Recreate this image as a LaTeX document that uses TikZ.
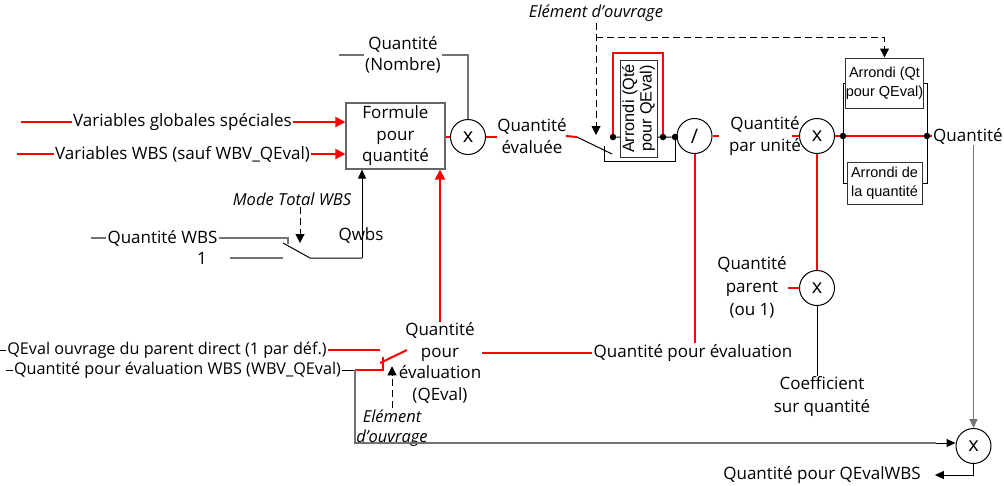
\documentclass[tikz,border=0pt]{standalone}
\usepackage{fontspec}
\setmainfont{Open Sans}
\newfontfamily\boxfont{Liberation Sans}
\usetikzlibrary{arrows.meta,positioning}

\begin{document}
\begin{tikzpicture}[
  x=1pt, y=-1pt,
  every node/.style={font=\fontsize{17}{21.5}\selectfont, inner sep=1pt, align=center},
  formbox/.style={draw=black!60, line width=1.1pt, minimum width=99pt, minimum height=66pt},
  rbox/.style={draw=black!80, line width=1pt, fill=white, inner sep=0pt, font=\boxfont\fontsize{14.5}{19}\selectfont},
  op/.style={draw, circle, line width=1pt, minimum size=35pt, inner sep=0pt, font=\fontsize{20}{20}\selectfont},
  note/.style={font=\fontsize{16.5}{20.5}\selectfont\itshape},
  long/.style={font=\fontsize{16.2}{20}\selectfont},
  wire/.style={line width=1pt},
  gwire/.style={line width=1.1pt, black!55},
  rwire/.style={line width=2pt, red},
  arr/.style={-{Triangle[length=9pt,width=8pt]}, line width=1pt},
  rarr/.style={-{Triangle[length=10pt,width=10pt]}, line width=2pt, red},
  darr/.style={-{Triangle[length=9pt,width=9pt]}, dash pattern=on 7pt off 4pt, line width=1pt},
  dot/.style={circle, fill, inner sep=0pt, minimum size=6.5pt}
]
\useasboundingbox (0,0) rectangle (1004,485);

\node[formbox] (formule) at (395.5,136) {Formule\\pour\\quantité};
\node (nombre) at (403,55) {Quantité\\(Nombre)};
\node[op] (mul1) at (468,137) {x};
\node (vgs) at (182.5,122) {Variables globales spéciales};
\node (vwbs) at (182.5,154) {Variables WBS (sauf WBV\_QEval)};
\node (qeva) at (532,136) {Quantité\\évaluée};
\node[op] (div) at (694.5,136) {/};
\node (qpu) at (765,136) {Quantité\\par unité};
\node[op] (mul2) at (817,136) {x};
\node[op] (mul3) at (817,288) {x};
\node[font=\fontsize{17}{23}\selectfont] (qpar) at (752,287) {Quantité\\parent\\(ou 1)};
\node[font=\fontsize{17}{23}\selectfont] (coef) at (822,397) {Coefficient\\sur quantité};
\node[anchor=west] (qout) at (932,136) {Quantité};
\node[op] (mul4) at (973.5,446) {x};
\node (qwbsout) at (822,475) {Quantité pour QEvalWBS};
\node[note] (elem1) at (596,13) {Elément d'ouvrage};
\node[note] (mode) at (292,199) {Mode Total WBS};
\node (qwbs) at (361,235) {Qwbs};
\node (qwbsin) at (162.5,238) {Quantité WBS};
\node (one) at (202,258) {1};
\node (qeval) at (440,363) {Quantité\\pour\\évaluation\\(QEval)};
\node (qpe) at (693,353) {Quantité pour évaluation};
\node[long] (parentd) at (167,350) {QEval ouvrage du parent direct (1 par déf.)};
\node[long] (wbvq) at (177.5,370) {Quantité pour évaluation WBS (WBV\_QEval)};
\node[note] (elem2) at (392,428) {Elément\\d'ouvrage};

\node[dot] (d1) at (613,137) {};
\node[dot] (d2) at (663,137) {};
\node[dot] (d3) at (675,137) {};
\node[dot] (ja) at (843,136) {};
\node[dot] (jb) at (927,136) {};

\coordinate (s1in) at (566,136);
\coordinate (s1a) at (577,137);
\coordinate (s1b) at (612,154);
\coordinate (s1c) at (604,146);
\coordinate (s2a) at (283,243);
\coordinate (s2b) at (310,258);
\coordinate (s2c) at (288,238);
\coordinate (s2d) at (362,258);
\coordinate (s3a) at (380,363);
\coordinate (s3b) at (407,350);
\coordinate (s3c) at (383,370);
\coordinate (s3d) at (355,370);
\coordinate (oneend) at (230,258);

\draw[wire] (d1) -- (d3) -- (div.west);
\draw[wire] (s1c) -- (s1c |- 0,161) -| (d3);
\draw[rwire] (d1) -- ++(0,-84) -| (d2);
\node[rbox, rotate=90, minimum width=97pt, minimum height=37pt, font=\boxfont\fontsize{16.3}{17.5}\selectfont] (arrqe) at (638.5,108.5) {Arrondi (Qté\\pour QEval)};
\node[rbox, minimum width=75pt, minimum height=50pt] (arrq) at (884.5,83) {Arrondi (Qt\\pour QEval)};
\node[rbox, minimum width=75pt, minimum height=42pt] (arrd) at (884.5,183) {Arrondi de\\la quantité};

\draw[gwire] ([xshift=-25pt]nombre.west) -- (nombre.west);
\draw[gwire] (nombre.east) -| (mul1.north);
\draw[rwire] ([xshift=-51pt]vgs.west) -- (vgs.west);
\draw[rarr] (vgs.east) -- (formule.west |- vgs);
\draw[rwire] ([xshift=-37pt]vwbs.west) -- (vwbs.west);
\draw[rarr] (vwbs.east) -- (formule.west |- vwbs);
\draw[rwire] (formule.east |- mul1) -- (mul1.west);
\draw[rwire] (mul1.east) -- ++(11,0);
\draw[rwire] (s1in) -- (s1a);
\draw[wire] (s1a) -- (s1b);
\draw[rwire] (div.east) -- ++(6,0);
\draw[rwire] ([xshift=-7pt]mul2.west) -- (mul2.west);
\draw[rwire] (mul2.east) -- (ja) -- (jb) -- (qout.west);
\draw[rwire] (mul2.south) -- (mul3.north);
\draw[rwire] (qpar.east |- mul3) -- (mul3.west);
\draw[wire] (mul3.south) -- (mul3.south |- coef.north);
\draw[wire] (arrq.west) -| (ja) |- (arrd.west);
\draw[wire] (arrq.east) -| (jb) |- (arrd.east);
\draw[darr] (elem1.south) -- ([yshift=2pt]elem1.south |- s1a);
\draw[darr] (elem1.south |- 0,37) -| (arrq.north);
\draw[gwire, -{Triangle[length=9pt,width=8pt]}] (mul4.north |- qout.south) -- (mul4.north);
\draw[arr] (mul4.south) |- ([xshift=13pt]qwbsout.east);

\draw[gwire] ([xshift=-15pt]qwbsin.west) -- (qwbsin.west);
\draw[gwire] (qwbsin.east) -- (s2c) -- ++(0,6);
\draw[gwire] (oneend) -- (s2a |- oneend);
\draw[wire] (s2a) -- (s2b) -- (s2d);
\draw[arr] (s2d) -- (s2d |- formule.south);
\draw[darr] ([xshift=8pt]mode.south) -- ([xshift=8pt]mode.south |- s2a);

\draw[wire] ([xshift=-7pt]parentd.west) -- (parentd.west);
\draw[wire] ([xshift=-7pt]wbvq.west) -- (wbvq.west);
\draw[rwire] (parentd.east) -- (parentd.east -| s3a);
\draw[rwire] (s3a) -- (s3b);
\draw[wire] (wbvq.east) -- (s3d);
\draw[rwire] (s3d) -- (s3c) -- ++(0,-13);
\draw[gwire] (s3d) |- ([yshift=3pt,xshift=-20pt]mul4.west);
\draw[arr] ([yshift=3pt,xshift=-20pt]mul4.west) -- ([yshift=3pt]mul4.west);
\draw[darr] (elem2.north) -- ++(0,-42);
\draw[rarr] (qeval.north) -- (qeval.north |- formule.south);
\draw[rwire] (qeval.east |- qpe) -- (qpe.west);
\draw[rwire] (div.south) -- (div.south |- qpe.north);

\end{tikzpicture}
\end{document}
